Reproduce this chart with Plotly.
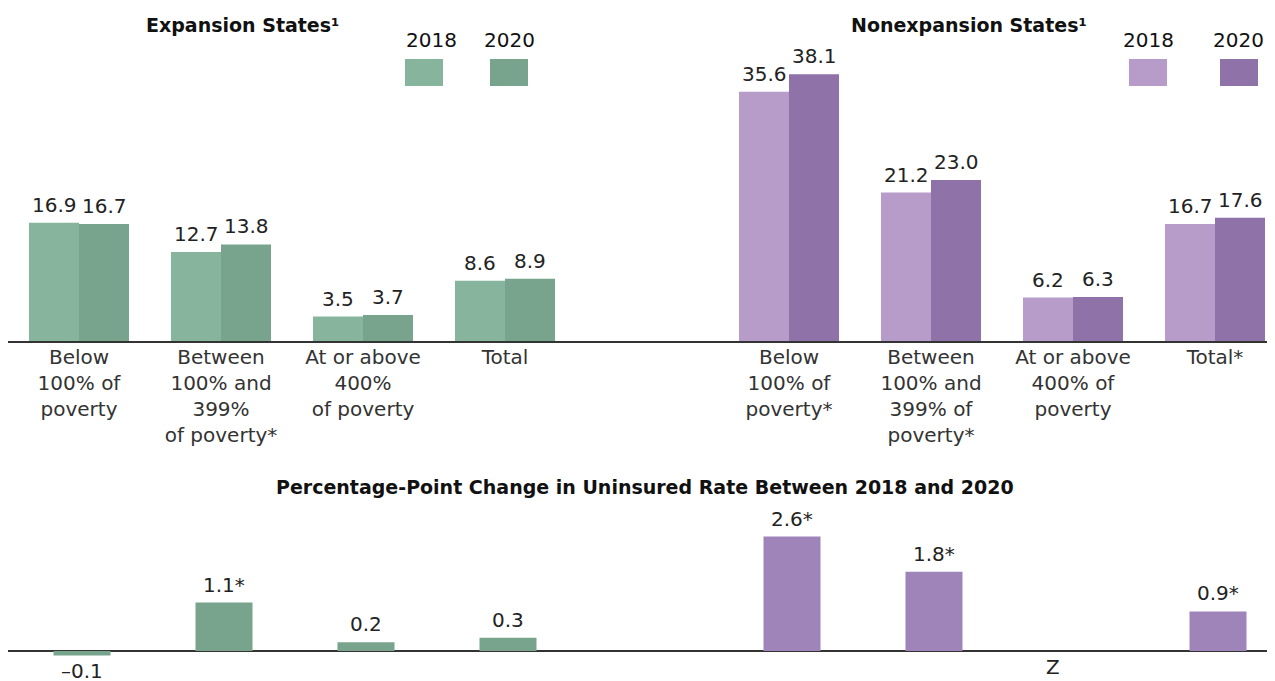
import plotly.graph_objects as go

# ---- data ----
groups = ["Below<br>100% of<br>poverty",
          "Between<br>100% and<br>399%<br>of poverty*",
          "At or above<br>400%<br>of poverty",
          "Total",
          "",
          "Below<br>100% of<br>poverty*",
          "Between<br>100% and<br>399% of<br>poverty*",
          "At or above<br>400% of<br>poverty",
          "Total*"]
exp_idx = [0, 1, 2, 3]
non_idx = [5, 6, 7, 8]

exp_2018 = [16.9, 12.7, 3.5, 8.6]
exp_2020 = [16.7, 13.8, 3.7, 8.9]
non_2018 = [35.6, 21.2, 6.2, 16.7]
non_2020 = [38.1, 23.0, 6.3, 17.6]

exp_change = [-0.1, 1.1, 0.2, 0.3]
exp_change_txt = ["\u20130.1", "1.1*", "0.2", "0.3"]
non_change = [2.6, 1.8, None, 0.9]
non_change_txt = ["2.6*", "1.8*", "", "0.9*"]
z_label = "Z"
z_index = 7

years = ["2018", "2020"]

# ---- style ----
FONT = "DejaVu Sans"
TXT = "#222222"
G18, G20 = "#86b49c", "#78a48e"
P18, P20 = "#b79cc9", "#8e72a8"
GCH, PCH = "#78a48e", "#9e84b8"
W, H = 1275, 681
OFF = 8  # page offset
BW = 50 / 142
CW = 57 / 142
CSHIFT = 3 / 142

def fx(px):
    return (px - OFF) / W

def fy(py):
    return 1 - (py - OFF) / H

fig = go.Figure()
annotations = []

def fmt(v):
    return f"{v:.1f}"

for xs, vals, col, off in [(exp_idx, exp_2018, G18, -BW),
                           (exp_idx, exp_2020, G20, 0),
                           (non_idx, non_2018, P18, -BW),
                           (non_idx, non_2020, P20, 0)]:
    fig.add_trace(go.Bar(x=xs, y=vals, width=BW, offset=off,
                         marker=dict(color=col, line=dict(width=0)),
                         xaxis="x", yaxis="y", showlegend=False,
                         hoverinfo="skip"))
    for xi, v in zip(xs, vals):
        annotations.append(dict(text=fmt(v), x=xi + off + BW / 2, y=v,
                                xref="x", yref="y", xanchor="center",
                                yanchor="bottom", yshift=4, showarrow=False,
                                font=dict(family=FONT, size=20, color=TXT)))

for xs, vals, txt, col in [(exp_idx, exp_change, exp_change_txt, GCH),
                           (non_idx, non_change, non_change_txt, PCH)]:
    fig.add_trace(go.Bar(x=xs, y=vals, width=CW, offset=-CW / 2 + CSHIFT,
                         marker=dict(color=col, line=dict(width=0)),
                         xaxis="x2", yaxis="y2", showlegend=False,
                         hoverinfo="skip"))
    for xi, v, t in zip(xs, vals, txt):
        if v is None or not t:
            continue
        annotations.append(dict(text=t, x=xi + CSHIFT, y=v,
                                xref="x2", yref="y2", xanchor="center",
                                yanchor=("bottom" if v >= 0 else "top"),
                                yshift=(4 if v >= 0 else -2), showarrow=False,
                                font=dict(family=FONT, size=20, color=TXT)))

xr = [(OFF - 79) / 142, (W + OFF - 79) / 142]

def pa(text, px, py, size, bold=False):
    annotations.append(dict(text=(f"<b>{text}</b>" if bold else text),
                            x=fx(px), y=fy(py), xref="paper", yref="paper",
                            xanchor="center", yanchor="middle", showarrow=False,
                            font=dict(family=FONT, size=size, color="#111111")))

pa("Expansion States\u00b9", 242, 25, 19, bold=True)
pa("Nonexpansion States\u00b9", 969, 25, 19, bold=True)
pa("Percentage-Point Change in Uninsured Rate Between 2018 and 2020", 645, 487, 19, bold=True)

shapes = []
legend_items = [(424, 432, G18, years[0]), (509, 509, G20, years[1]),
                (1148, 1148, P18, years[0]), (1239, 1238, P20, years[1])]
for cx, tx, col, lab in legend_items:
    pa(lab, tx, 40, 20)
    shapes.append(dict(type="rect", xref="paper", yref="paper",
                       x0=fx(cx - 19), x1=fx(cx + 19),
                       y0=fy(86), y1=fy(59),
                       fillcolor=col, line=dict(width=0)))

annotations.append(dict(text=z_label, x=z_index, y=0, xref="x2", yref="y2",
                        xshift=-20, yshift=-16, yanchor="middle", showarrow=False,
                        font=dict(family=FONT, size=20, color=TXT)))

fig.update_layout(
    width=W, height=H,
    margin=dict(l=0, r=0, t=0, b=0),
    paper_bgcolor="white", plot_bgcolor="white",
    barmode="overlay",
    xaxis=dict(domain=[0, 1], range=xr, tickmode="array",
               tickvals=list(range(len(groups))), ticktext=groups,
               showgrid=False, zeroline=False, showline=True,
               linecolor="#333333", linewidth=1.5, ticks="",
               ticklabelstandoff=-3,
               tickfont=dict(family=FONT, size=20, color="#333333"),
               anchor="y", fixedrange=True),
    yaxis=dict(domain=[fy(341), fy(40)], range=[0, 301 / 7],
               visible=False, fixedrange=True),
    xaxis2=dict(domain=[0, 1], range=xr, showticklabels=False,
                showgrid=False, zeroline=False, showline=False, ticks="",
                anchor="y2", fixedrange=True),
    yaxis2=dict(domain=[fy(681), fy(510)], range=[-30 / 44, 141 / 44],
                showgrid=False, showticklabels=False, ticks="",
                zeroline=True, zerolinecolor="#333333", zerolinewidth=1.5,
                fixedrange=True),
    annotations=annotations, shapes=shapes,
)

fig.write_html("out.html")
